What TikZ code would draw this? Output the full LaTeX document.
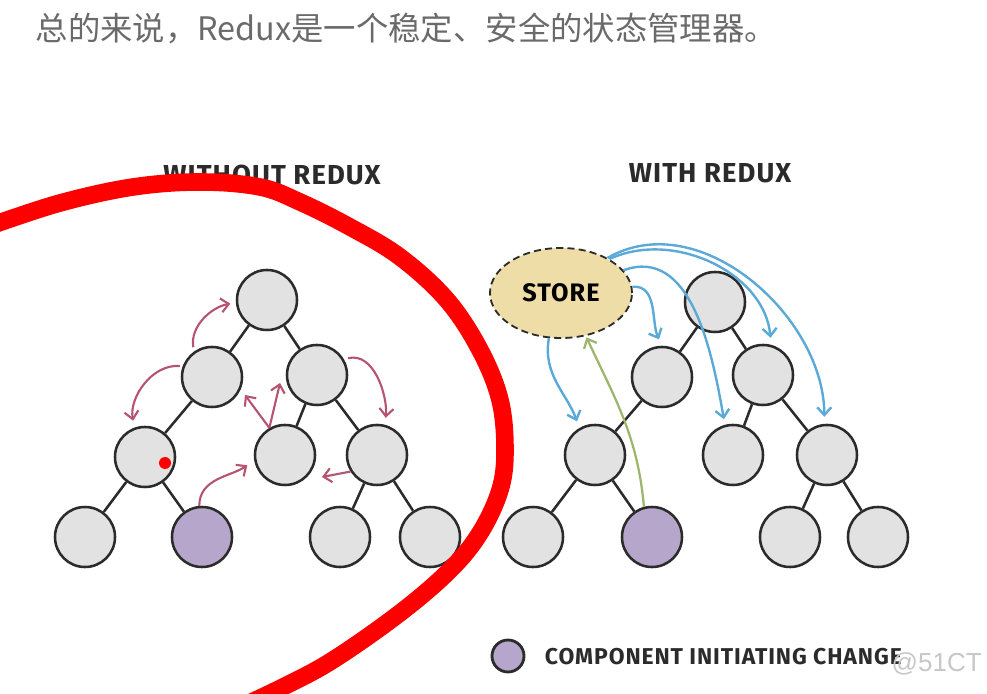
\documentclass[tikz,border=0pt]{standalone}
\usepackage{fontspec}
\newfontfamily\cjk{Noto Sans CJK SC}
\newfontfamily\hand{Fira Sans}[LetterSpace=4]
\newfontfamily\thin{Liberation Sans}
\usetikzlibrary{arrows.meta,shapes.geometric}

\definecolor{nodegray}{HTML}{E2E2E2}
\definecolor{edgeblack}{HTML}{2B2B2B}
\definecolor{lilac}{HTML}{B7A6CB}
\definecolor{storetan}{HTML}{EEDDA6}
\definecolor{redarrow}{HTML}{B65470}
\definecolor{bluearrow}{HTML}{5AA9D6}
\definecolor{greenarrow}{HTML}{9DB66B}
\definecolor{marker}{HTML}{FF0000}
\definecolor{headgray}{HTML}{6A6A6A}

\tikzset{
  comp/.style={circle,draw=edgeblack,fill=nodegray,line width=1.8pt,minimum size=1.5cm,inner sep=0pt},
  initiator/.style={comp,fill=lilac},
  link/.style={edgeblack,line width=1.8pt},
  push/.style={redarrow,line width=1.5pt,-{Straight Barb[length=5.5pt,width=10pt]}},
  pull/.style={bluearrow,line width=1.7pt,-{Straight Barb[length=5.5pt,width=10pt]}},
  report/.style={greenarrow,line width=1.6pt,-{Straight Barb[length=5.5pt,width=10pt]}},
  heading/.style={font=\hand\bfseries\fontsize{19.5}{20}\selectfont,text=edgeblack},
}

\begin{document}
\begin{tikzpicture}[x=0.025cm,y=-0.025cm]
        \useasboundingbox (0,0) rectangle (987,694);
        \clip (0,0) rectangle (987,694);
        % text
        \node[anchor=west,text=headgray,font=\cjk\fontsize{23}{23}\selectfont] (headline) at (31,28) {总的来说，Redux是一个稳定、安全的状态管理器。};
        \node[heading] (without) at (272,175) {WITHOUT REDUX};
        \node[heading] (with) at (710,173) {WITH REDUX};

        % left tree
        \node[comp] (lt) at (267,300) {};
        \node[comp] (lml) at (212,377) {};\node[comp] (lmr) at (317,375) {};
        \node[comp] (lrl) at (145,457) {};\node[comp] (lrm) at (285,455) {};\node[comp] (lrr) at (377,455) {};
        \node[comp] (lb1) at (85,537) {};\node[initiator] (lb2) at (202,537) {};
        \node[comp] (lb3) at (340,537) {};\node[comp] (lb4) at (430,537) {};
        \draw[link] (lt) -- (lml);\draw[link] (lt) -- (lmr);
        \draw[link] (lml) -- (lrl);\draw[link] (lmr) -- (lrm);\draw[link] (lmr) -- (lrr);
        \draw[link] (lrl) -- (lb1);\draw[link] (lrl) -- (lb2);
        \draw[link] (lrr) -- (lb3);\draw[link] (lrr) -- (lb4);

        % right tree
        \node[comp] (rt) at (715,302) {};
        \node[comp] (rml) at (662,377) {};\node[comp] (rmr) at (763,375) {};
        \node[comp] (rrl) at (595,455) {};\node[comp] (rrm) at (733,455) {};\node[comp] (rrr) at (827,455) {};
        \node[comp] (rb1) at (533,537) {};\node[initiator] (rb2) at (652,537) {};
        \node[comp] (rb3) at (790,537) {};\node[comp] (rb4) at (878,537) {};
        \draw[link] (rt) -- (rml);\draw[link] (rt) -- (rmr);
        \draw[link] (rml) -- (rrl);\draw[link] (rmr) -- (rrm);\draw[link] (rmr) -- (rrr);
        \draw[link] (rrl) -- (rb1);\draw[link] (rrl) -- (rb2);
        \draw[link] (rrr) -- (rb3);\draw[link] (rrr) -- (rb4);

        % store
        \node[ellipse,draw=edgeblack,fill=storetan,line width=1.3pt,dash pattern=on 5pt off 3pt,
              minimum width=3.55cm,minimum height=2.25cm,font=\hand\bfseries\fontsize{18}{18}\selectfont] (store) at (561,293) {STORE};

        % red arrows
        \coordinate (vleft) at (245,395);\coordinate (vright) at (280,383);\coordinate (lefttip) at (322,477);
        \draw[push,shorten <=3pt,shorten >=4pt] (lml.125) to[out=100,in=190] (lt.185);
        \draw[push,shorten <=2pt,shorten >=5pt] (lml.160) to[out=175,in=100] (lrl.110);
        \draw[push] (lrm.120) -- (vleft);\draw[push] (lrm.120) -- (vright);
        \draw[push,shorten <=3pt,shorten >=5pt] (lmr.30) to[out=15,in=85] (lrr.75);
        \draw[push] (lrr.212) -- (lefttip);
        \draw[push,shorten >=6pt] (lb2.95) to[out=90,in=215] (lrm.190);
        \node[circle,fill=marker,inner sep=0pt,minimum size=0.3cm] (spot) at (165,463) {};

        % blue and green arrows
        \draw[pull,shorten >=5pt] (store.255) to[out=260,in=110] (rrl.120);
        \draw[pull,shorten >=5pt] (store.5) to[out=5,in=115] (rml.90);
        \draw[pull,shorten >=4pt] (store.20) to[out=20,in=100] (rrm.105);
        \draw[pull,shorten >=5pt] (store.35) to[out=25,in=95] (rmr.75);
        \draw[pull,shorten >=5pt] (store.37) to[out=30,in=90] (rrr.95);
        \draw[report,shorten >=1pt] (rb2.105) to[out=95,in=-65] (store.300);

        % legend
        \node[initiator,line width=2pt,minimum size=0.8cm] (key) at (508,656) {};
        \node[anchor=west,font=\hand\bfseries\fontsize{16.3}{16.3}\selectfont,text=edgeblack] (keytext) at (540,657) {COMPONENT INITIATING CHANGE};
        \node[anchor=west,text=black!22,font=\thin\fontsize{18.5}{18.5}\selectfont,inner sep=1pt] (mark) at (890,664) {@51CT};

        % red loop
        \draw[marker,line width=12.5pt,line cap=round,line join=round] plot[smooth,tension=0.6] coordinates {(-10,226) (60,203) (133,187) (200,182) (260,187) (300,202) (350,227) (400,257) (447,300) (480,350) (500,400) (505,450) (500,490) (480,533) (450,570) (400,613) (333,660) (283,687) (230,712)};
    \end{tikzpicture}
\end{document}
